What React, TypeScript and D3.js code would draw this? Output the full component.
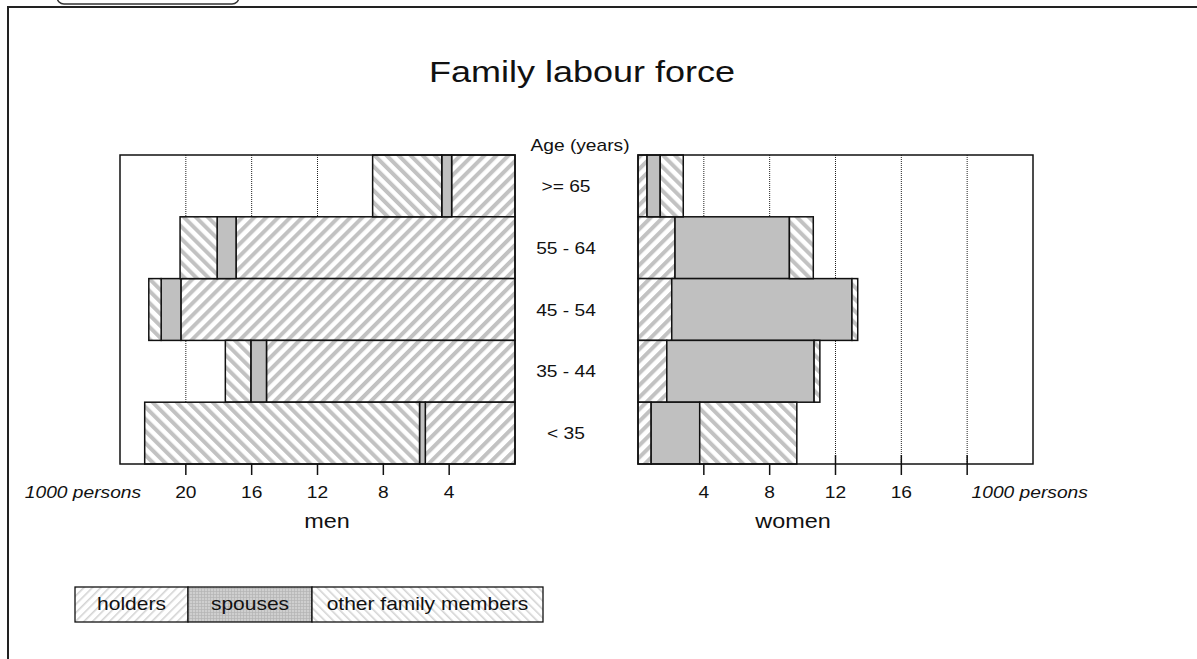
import * as d3 from 'd3';

// age groups, top row first
const ages = ['>= 65', '55 - 64', '45 - 54', '35 - 44', '< 35'];

// 1000 persons
const menHolders = [3.85, 16.95, 20.3, 15.1, 5.45];
const menSpouses = [0.6, 1.15, 1.2, 0.95, 0.35];
const menOthers = [4.2, 2.25, 0.75, 1.55, 16.7];

const womenHolders = [0.55, 2.25, 2.05, 1.75, 0.8];
const womenSpouses = [0.8, 6.95, 10.95, 8.95, 2.95];
const womenOthers = [1.4, 1.45, 0.35, 0.35, 5.9];

const tickValues = [4, 8, 12, 16, 20];
const menTickLabels = ['4', '8', '12', '16', '20'];
const womenTickLabels = ['4', '8', '12', '16', ''];
const legendLabels = ['holders', 'spouses', 'other family members'];
const keys = ['holders', 'spouses', 'others'];

const W = 1197;
const H = 659;
const FONT = '"Liberation Sans", Arial, Helvetica, sans-serif';
const SX = 1.2; // the reference text is stretched horizontally

const panelTop = 155;
const panelBottom = 464;

const y = d3.scaleBand<string>().domain(ages).range([panelTop, panelBottom]).padding(0);
const xMen = d3.scaleLinear().domain([0, 24]).range([515, 120]);
const xWomen = d3.scaleLinear().domain([0, 24]).range([638, 1033]);

const stack = d3.stack<any>().keys(keys);
const menSeries = stack(ages.map((a, i) => ({ age: a, holders: menHolders[i], spouses: menSpouses[i], others: menOthers[i] })));
const womenSeries = stack(ages.map((a, i) => ({ age: a, holders: womenHolders[i], spouses: womenSpouses[i], others: womenOthers[i] })));

const fills: Record<string, string> = {
    holders: 'url(#hatchUp)',
    spouses: '#c0c0c0',
    others: 'url(#hatchDown)',
};

function Txt({ x, y, size, anchor = 'middle', italic = false, children }: any) {
    return (
        <text
            transform={`translate(${x},${y}) scale(${SX},1)`}
            textAnchor={anchor}
            fontSize={size}
            fontStyle={italic ? 'italic' : 'normal'}
            fontFamily={FONT}
            fill="#111"
        >
            {children}
        </text>
    );
}

function Panel({ x, series, labels, unitAt }: any) {
    const [r0, r1] = x.range();
    const left = Math.min(r0, r1);
    const right = Math.max(r0, r1);
    return (
        <g>
            <rect x={left} y={panelTop} width={right - left} height={panelBottom - panelTop} fill="white" />
            {/* dotted grid */}
            {tickValues.map((t) => (
                <line key={'g' + t} x1={x(t)} x2={x(t)} y1={panelTop} y2={panelBottom}
                    stroke="#222" strokeWidth={1} strokeDasharray="1,1" />
            ))}
            {/* tick marks */}
            {tickValues.map((t) => (
                <line key={'t' + t} x1={x(t)} x2={x(t)} y1={455} y2={475} stroke="#111" strokeWidth={1.5} />
            ))}
            {/* bars */}
            {series.map((s: any) => (
                <g key={s.key}>
                    {s.map((d: any) => {
                        const a = x(d[0]);
                        const b = x(d[1]);
                        return (
                            <rect key={d.data.age} x={Math.min(a, b)} y={y(d.data.age)}
                                width={Math.abs(b - a)} height={y.bandwidth()}
                                fill={fills[s.key]} stroke="#111" strokeWidth={1.5} />
                        );
                    })}
                </g>
            ))}
            <rect x={left} y={panelTop} width={right - left} height={panelBottom - panelTop}
                fill="none" stroke="#111" strokeWidth={1.5} />
            {tickValues.map((t, i) => (
                <Txt key={'l' + t} x={x(t)} y={498} size={16}>{labels[i]}</Txt>
            ))}
            <Txt x={x(unitAt)} y={498} size={16} italic>1000 persons</Txt>
        </g>
    );
}

export default function App() {
    const legendX = [75, 188, 312, 543];
    return (
        <div style={{ position: 'absolute', left: 0, top: 0, width: W, height: H, background: 'white' }}>
            <svg width={W} height={H} style={{ display: 'block' }}>
                <defs>
                    <pattern id="hatchUp" patternUnits="userSpaceOnUse" width={8.5} height={8.5} patternTransform="rotate(45)">
                        <rect width={8.5} height={8.5} fill="white" />
                        <rect x={0} y={0} width={4} height={8.5} fill="#c2c2c2" />
                    </pattern>
                    <pattern id="hatchDown" patternUnits="userSpaceOnUse" width={8.5} height={8.5} patternTransform="rotate(-45)">
                        <rect width={8.5} height={8.5} fill="white" />
                        <rect x={0} y={0} width={4} height={8.5} fill="#c2c2c2" />
                    </pattern>
                    <pattern id="legUp" patternUnits="userSpaceOnUse" width={6} height={6} patternTransform="rotate(45)">
                        <rect width={6} height={6} fill="white" />
                        <rect x={0} y={0} width={1.6} height={6} fill="#d4d4d4" />
                    </pattern>
                    <pattern id="legDown" patternUnits="userSpaceOnUse" width={6} height={6} patternTransform="rotate(-45)">
                        <rect width={6} height={6} fill="white" />
                        <rect x={0} y={0} width={1.6} height={6} fill="#d4d4d4" />
                    </pattern>
                    <pattern id="legGrid" patternUnits="userSpaceOnUse" width={3} height={3}>
                        <rect width={3} height={3} fill="#cfcfcf" />
                        <path d="M0,0.5H3M0.5,0V3" stroke="#b3b3b3" strokeWidth={0.7} />
                    </pattern>
                </defs>

                {/* outer frame and tab */}
                <path d={`M8,${H + 5}V7H${W + 5}`} fill="none" stroke="#222" strokeWidth={2} />
                <rect x={57} y={-20} width={182} height={24} rx={7} fill="white" stroke="#333" strokeWidth={1.5} />

                <Txt x={582} y={82} size={30}>Family labour force</Txt>
                <Txt x={580} y={151} size={16}>Age (years)</Txt>
                {ages.map((a) => (
                    <Txt key={a} x={566} y={(y(a) as number) + y.bandwidth() / 2 + 6} size={16}>{a}</Txt>
                ))}

                <Panel x={xMen} series={menSeries} labels={menTickLabels} unitAt={26.25} />
                <Panel x={xWomen} series={womenSeries} labels={womenTickLabels} unitAt={23.8} />

                <Txt x={327} y={528} size={19.5}>men</Txt>
                <Txt x={793} y={528} size={19.5}>women</Txt>

                {/* legend */}
                {legendLabels.map((l, i) => (
                    <g key={l}>
                        <rect x={legendX[i]} y={587} width={legendX[i + 1] - legendX[i]} height={35}
                            fill={['url(#legUp)', 'url(#legGrid)', 'url(#legDown)'][i]} stroke="#111" strokeWidth={1.3} />
                        <Txt x={(legendX[i] + legendX[i + 1]) / 2} y={610} size={17.5}>{l}</Txt>
                    </g>
                ))}
            </svg>
        </div>
    );
}
